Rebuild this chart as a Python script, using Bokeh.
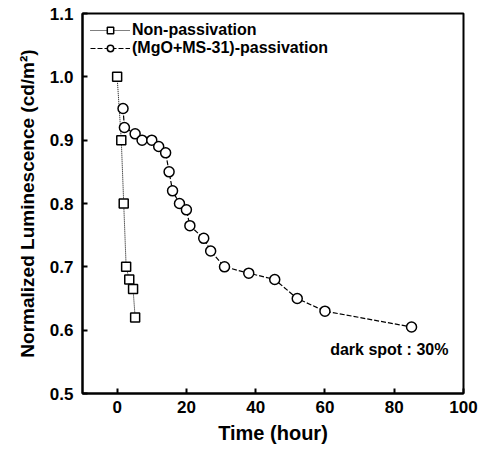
from bokeh.plotting import figure
from bokeh.embed import file_html
from bokeh.resources import INLINE
from bokeh.models import Range1d, FixedTicker, Label, CustomJSTickFormatter

# Data
non_x = [0, 1.2, 1.9, 2.6, 3.5, 4.6, 5.2]
non_y = [1.0, 0.90, 0.80, 0.70, 0.68, 0.665, 0.62]

pas_x = [1.7, 2.1, 5.2, 7.2, 10, 12, 14, 15, 16, 18, 20, 21, 25, 27, 31, 38, 45.5, 52, 60, 85]
pas_y = [0.95, 0.92, 0.91, 0.90, 0.90, 0.89, 0.88, 0.85, 0.82, 0.80, 0.79, 0.765,
         0.745, 0.725, 0.70, 0.69, 0.68, 0.65, 0.63, 0.605]

x_ticks = [0, 20, 40, 60, 80, 100]
y_ticks = [0.5, 0.6, 0.7, 0.8, 0.9, 1.0, 1.1]

FONT = "Liberation Sans"

p = figure(width=480, height=447, output_backend="svg", toolbar_location=None,
           x_range=Range1d(-10, 100), y_range=Range1d(0.5, 1.1),
           min_border_left=82, min_border_right=17, min_border_top=13, min_border_bottom=54)

p.grid.visible = False
p.outline_line_color = "black"
p.outline_line_width = 2
p.background_fill_color = "white"

for ax in (p.xaxis, p.yaxis):
    ax.axis_line_width = 2
    ax.axis_line_color = "black"
    ax.major_tick_in = 5
    ax.major_tick_out = 0
    ax.major_tick_line_width = 2
    ax.minor_tick_line_color = None
    ax.major_label_text_font = FONT
    ax.major_label_text_font_style = "bold"
    ax.major_label_text_font_size = "17px"
    ax.major_label_text_color = "black"
    ax.axis_label_text_font = FONT
    ax.axis_label_text_font_style = "bold"
    ax.axis_label_text_color = "black"

p.xaxis.axis_label_text_font_size = "20px"
p.yaxis.axis_label_text_font_size = "19px"
p.xaxis.ticker = FixedTicker(ticks=x_ticks)
p.yaxis.ticker = FixedTicker(ticks=y_ticks)
p.yaxis.formatter = CustomJSTickFormatter(code="return tick.toFixed(1);")
p.xaxis.axis_label = "Time (hour)"
p.yaxis.axis_label = "Normalized Luminescence (cd/m\u00b2)"
p.xaxis.axis_label_standoff = 6
p.yaxis.axis_label_standoff = 9
p.xaxis.major_label_standoff = 7
p.yaxis.major_label_standoff = 9

p.line(non_x, non_y, line_color="black", line_width=1, line_dash="1 1",
       legend_label="Non-passivation")
p.scatter(non_x, non_y, marker="square", size=9, fill_color="white",
          line_color="black", line_width=1.5, legend_label="Non-passivation")

p.line(pas_x, pas_y, line_color="black", line_width=1.2, line_dash="5 2",
       legend_label="(MgO+MS-31)-passivation")
p.scatter(pas_x, pas_y, marker="circle", size=10, fill_color="white",
          line_color="black", line_width=1.5, legend_label="(MgO+MS-31)-passivation")

p.legend.location = "top_left"
p.legend.background_fill_alpha = 0
p.legend.border_line_color = None
p.legend.label_text_font = FONT
p.legend.label_text_font_style = "bold"
p.legend.label_text_font_size = "16px"
p.legend.label_text_color = "black"
p.legend.glyph_width = 40
p.legend.glyph_height = 16
p.legend.label_height = 16
p.legend.spacing = -2
p.legend.padding = 2
p.legend.margin = 8
p.legend.label_standoff = 2

p.add_layout(Label(x=61.5, y=0.57, text="dark spot : 30%", text_font=FONT,
                   text_font_style="bold", text_font_size="16px", text_color="black",
                   text_baseline="middle"))

open("out.html", "w").write(file_html(p, INLINE))
